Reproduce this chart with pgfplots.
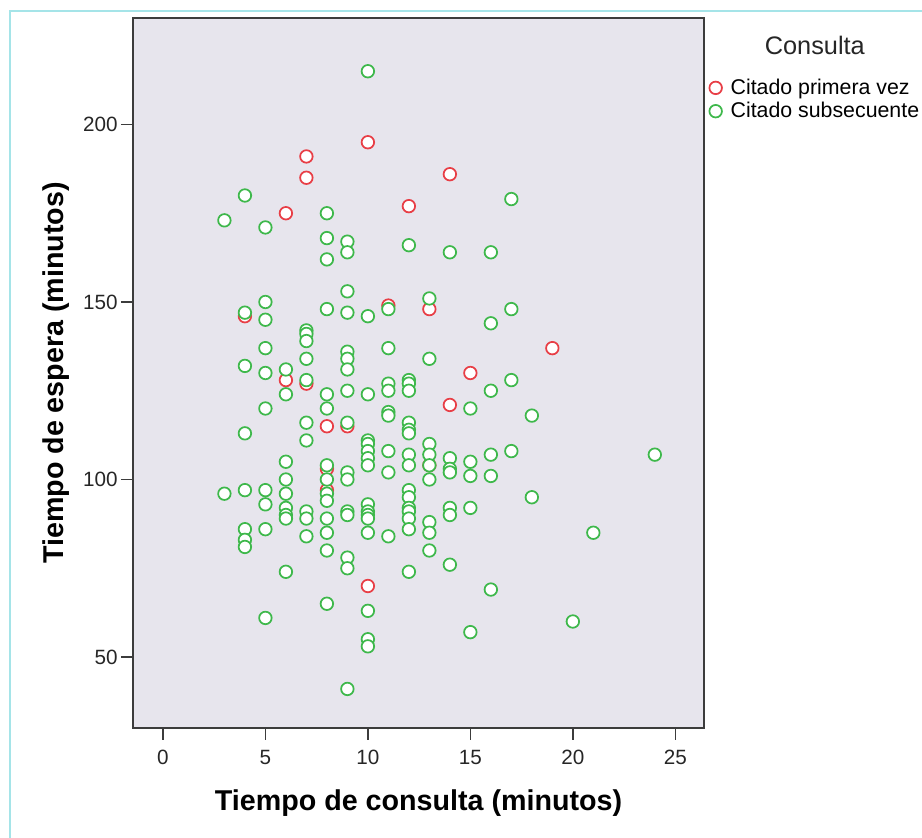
\documentclass[border=0pt]{standalone}
\usepackage{pgfplots}
\pgfplotsset{compat=1.18}
\usepackage{fontspec}
\setmainfont{Liberation Sans}
\definecolor{bgcol}{RGB}{231,229,237}
\definecolor{redc}{RGB}{232,62,70}
\definecolor{greenc}{RGB}{62,184,75}
\definecolor{framec}{RGB}{165,228,232}
\definecolor{axcol}{RGB}{60,60,60}
\begin{document}
\begin{tikzpicture}
\useasboundingbox (0,0) rectangle (691.5pt,628.5pt);
\draw[framec, line width=1.5pt] (7.5pt,0) -- (7.5pt,620.25pt) -- (691.5pt,620.25pt);
\begin{axis}[
  scale only axis,
  width=428.25pt, height=532.5pt,
  at={(99.75pt,82.5pt)}, anchor=south west,
  xmin=-1.46, xmax=26.4, ymin=30, ymax=230,
  xtick={0,5,10,15,20,25}, ytick={50,100,150,200},
  axis background/.style={fill=bgcol},
  axis line style={axcol, line width=1.2pt},
  tick style={axcol, line width=1.1pt},
  tick align=outside, major tick length=9pt,
  xtick pos=bottom, ytick pos=left,
  /pgf/number format/assume math mode=true,
  tick label style={font=\fontsize{15.5}{18}\selectfont, text=black!85},
  xticklabel style={yshift=-4pt},
  yticklabel style={xshift=1pt},
  xlabel={\textbf{Tiempo de consulta (minutos)}},
  ylabel={\textbf{Tiempo de espera (minutos)}},
  label style={font=\fontsize{21.5}{24}\selectfont},
  xlabel style={at={(axis description cs:0.5,-0.106)}, anchor=center},
  ylabel style={at={(axis description cs:-0.135,0.5)}, anchor=center},
  legend style={at={(axis description cs:1.009,0.918)}, anchor=north west,
    draw=none, fill=none, font=\fontsize{16}{18}\selectfont,
    row sep=0.4pt, inner xsep=0pt, inner ysep=0pt,
    /tikz/every odd column/.append style={column sep=4.5pt}},
  legend cell align=left,
  legend image code/.code={\draw[#1] plot coordinates {(0.2cm,0cm)};},
  clip=false,
]
\addplot[only marks, mark=*, mark size=4.7pt, mark options={draw=redc, fill=white, line width=1.3pt}] coordinates {
(4,146) (6,175) (6,128) (7,191) (7,185) (7,127) (8,115) (8,103) (8,97) (9,115)
(10,195) (10,70) (11,149) (12,177) (13,148) (13,104) (14,186) (14,121) (15,130) (19,137)
};
\addlegendentry{Citado primera vez}
\addplot[only marks, mark=*, mark size=4.7pt, mark options={draw=greenc, fill=white, line width=1.3pt}] coordinates {
(3,173) (3,96)
(4,180) (4,147) (4,132) (4,113) (4,97) (4,86) (4,83) (4,81)
(5,171) (5,150) (5,145) (5,137) (5,130) (5,120) (5,97) (5,93) (5,86) (5,61)
(6,131) (6,124) (6,105) (6,100) (6,96) (6,92) (6,90) (6,89) (6,74)
(7,142) (7,141) (7,139) (7,134) (7,128) (7,116) (7,111) (7,91) (7,89) (7,84)
(8,175) (8,168) (8,162) (8,148) (8,124) (8,120) (8,104) (8,100) (8,96) (8,94) (8,89) (8,85) (8,80) (8,65)
(9,167) (9,164) (9,153) (9,147) (9,136) (9,134) (9,131) (9,125) (9,116) (9,102) (9,100) (9,91) (9,90) (9,78) (9,75) (9,41)
(10,215) (10,146) (10,124) (10,111) (10,110) (10,108) (10,106) (10,104) (10,93) (10,91) (10,90) (10,89) (10,85) (10,63) (10,55) (10,53)
(11,148) (11,137) (11,127) (11,125) (11,119) (11,118) (11,108) (11,102) (11,84)
(12,166) (12,128) (12,127) (12,125) (12,116) (12,114) (12,113) (12,107) (12,104) (12,97) (12,95) (12,92) (12,91) (12,89) (12,86) (12,74)
(13,151) (13,134) (13,110) (13,107) (13,104) (13,100) (13,88) (13,85) (13,80)
(14,164) (14,106) (14,103) (14,102) (14,92) (14,90) (14,76)
(15,120) (15,105) (15,101) (15,92) (15,57)
(16,164) (16,144) (16,125) (16,107) (16,101) (16,69)
(17,179) (17,148) (17,128) (17,108)
(18,118) (18,95)
(20,60) (21,85) (24,107)
};
\addlegendentry{Citado subsecuente}
\node[font=\fontsize{19}{22}\selectfont, text=black!85] at (axis description cs:1.194,0.962) {Consulta};
\end{axis}
\end{tikzpicture}
\end{document}
